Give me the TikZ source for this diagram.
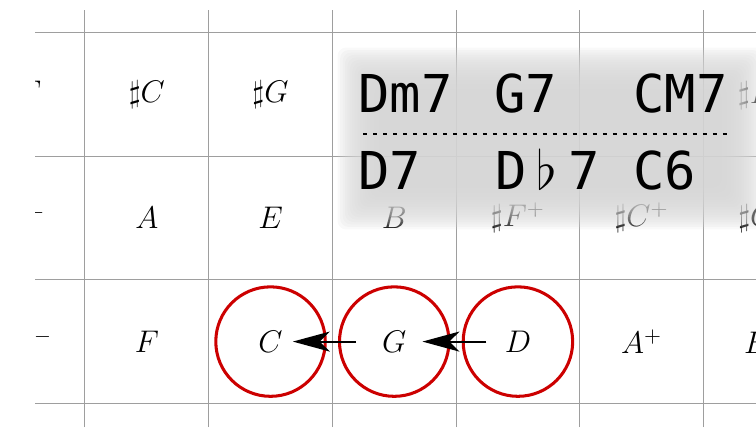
\documentclass[tikz,border=0pt]{standalone}
\usepackage{fontspec}
\usetikzlibrary{arrows.meta}
\newfontfamily\chordfont{DejaVu Sans Mono}
\begin{document}
\begin{tikzpicture} [
    rule/.style={draw=black!38, line width=0.45pt},
    note/.style={font=\Large, inner sep=2pt},
    ring/.style={circle, draw=red!80!black, line width=1.4pt, minimum size=1.77cm, inner sep=0pt},
    flow/.style={-{Stealth[length=17pt,width=9.2pt,inset=4.6pt]}, line width=1pt},
    chord/.style={anchor=base west, inner sep=0pt, font=\chordfont\fontsize{24}{28}\selectfont},
    sep/.style={line width=0.6pt, dash pattern=on 1.8pt off 2.8pt}
  ]
  \useasboundingbox (0,0) rectangle (12.223,6.904);
  \begin{scope}
    \clip (0.566,0) rectangle (12.3,6.74);
    \foreach \i in {0,...,5}
      \draw[rule] ({1.374+2*\i},0) -- ++(0,7);
    \foreach \j in {0,...,3}
      \draw[rule] (0,{0.381+2*\j}) -- ++(12.5,0);
    % bottom row
    \node[note] (Bb) at (0.40,1.381) {$\flat B^-$};
    \node[note] (F) at (2.374,1.381) {$F$};
    \node[note] (C) at (4.374,1.381) {$C$};
    \node[note] (G) at (6.374,1.381) {$G$};
    \node[note] (D) at (8.374,1.381) {$D$};
    \node[note] (Ap) at (10.374,1.381) {$A^+$};
    \node[note] (Ep) at (12.374,1.381) {$E^+$};
    % middle row
    \node[note] (Dm) at (0.374,3.381) {$D^-$};
    \node[note] (A) at (2.374,3.381) {$A$};
    \node[note] (E) at (4.374,3.381) {$E$};
    \node[note] (B) at (6.374,3.381) {$B$};
    \node[note] (Fsp) at (8.374,3.381) {$\sharp F^+$};
    \node[note] (Csp) at (10.374,3.381) {$\sharp C^+$};
    \node[note] (Gsp) at (12.374,3.381) {$\sharp G^+$};
    % top row
    \node[note] (Fs) at (0.374,5.381) {$\sharp F$};
    \node[note] (Cs) at (2.374,5.381) {$\sharp C$};
    \node[note] (Gs) at (4.374,5.381) {$\sharp G$};
    \node[note] (Bsp) at (12.374,5.381) {$\sharp B^+$};
  \end{scope}
  \node[ring] (ringC) at (4.374,1.381) {};
  \node[ring] (ringG) at (6.374,1.381) {};
  \node[ring] (ringD) at (8.374,1.381) {};
  \draw[flow, shorten <=6.3pt, shorten >=5.2pt] (D) -- (G);
  \draw[flow, shorten <=9.8pt, shorten >=2.5pt] (G) -- (C);
  % soft grey panel
  \foreach \i in {0,...,19}
    \fill[gray!33, opacity=0.15, rounded corners=4pt]
      ({5.578-0.12+0.04*\i},{3.314-0.12+0.04*\i}) rectangle ({12.226+0.12-0.04*\i},{6.015+0.12-0.04*\i});
  \node[chord] (dm7) at (5.788,5.077) {Dm7};
  \node[chord] (g7) at (7.987,5.077) {G7};
  \node[chord] (cm7) at (10.234,5.077) {CM7};
  \node[chord] (d7) at (5.788,3.832) {D7};
  \node[chord] (db7) at (8.003,3.832) {D\hspace{4.5pt}$\flat$\hspace{5pt}7};
  \node[chord] (c6) at (10.234,3.832) {C6};
  \draw[sep] (5.869,4.737) -- (11.754,4.737);
\end{tikzpicture}
\end{document}
